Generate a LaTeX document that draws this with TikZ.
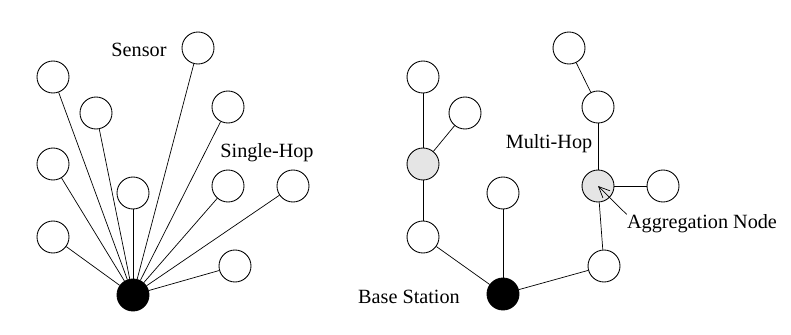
\documentclass[tikz,border=0pt]{standalone}
\usepackage{fontspec}
\setmainfont{Liberation Serif}
\usetikzlibrary{arrows.meta}
\begin{document}
\begin{tikzpicture}[x=0.2mm, y=-0.2mm,
        sensor/.style={circle, draw, line width=0.5pt, minimum size=6.4mm, inner sep=0pt, fill=white},
        sink/.style={sensor, fill=black},
        aggr/.style={sensor, fill=gray!20},
        link/.style={line width=0.4pt},
        lbl/.style={font=\fontsize{11.5}{13}\selectfont, inner sep=0pt}]

        \useasboundingbox (0,0) rectangle (791,334);

        % single-hop star
        \node[sink]   (sbase) at (133,295) {};
        \node[sensor] (s1) at (53,77) {};
        \node[sensor] (s2) at (96,113) {};
        \node[sensor] (s3) at (53,164) {};
        \node[sensor] (s4) at (53,237) {};
        \node[sensor] (s5) at (133,193) {};
        \node[sensor] (s6) at (198,48) {};
        \node[sensor] (s7) at (228,107) {};
        \node[sensor] (s8) at (228,186) {};
        \node[sensor] (s9) at (293,186) {};
        \node[sensor] (s10) at (235,266) {};

        \foreach \n in {s1,s2,s3,s4,s5,s6,s7,s8,s9,s10}
            \draw[link] (sbase) -- (\n);

        % multi-hop tree
        \node[sink]   (mbase) at (503,294) {};
        \node[sensor] (m1) at (423,77) {};
        \node[sensor] (m2) at (465,113) {};
        \node[aggr]   (agg1) at (423,164) {};
        \node[sensor] (m3) at (423,237) {};
        \node[sensor] (m4) at (503,193) {};
        \node[sensor] (m5) at (569,48) {};
        \node[sensor] (m6) at (598,107) {};
        \node[aggr]   (agg2) at (598,186) {};
        \node[sensor] (m7) at (663,186) {};
        \node[sensor] (m8) at (604,266) {};

        \draw[link] (m1) -- (agg1);
        \draw[link] (m2) -- (agg1);
        \draw[link] (agg1) -- (m3);
        \draw[link] (m3) -- (mbase);
        \draw[link] (m4) -- (mbase);
        \draw[link] (mbase) -- (m8);
        \draw[link] (m8) -- (agg2);
        \draw[link] (agg2) -- (m7);
        \draw[link] (agg2) -- (m6);
        \draw[link] (m6) -- (m5);

        % Add text labels
        \node[lbl] (tsensor) at (139,50) {Sensor};
        \node[lbl] (tsingle) at (267,153) {Single-Hop};
        \node[lbl] (tmulti)  at (549,144) {Multi-Hop};
        \node[lbl] (tagg)    at (702,224) {Aggregation Node};
        \node[lbl] (tbase)   at (409,297) {Base Station};

        % draw arrows
        \draw[link, -{Straight Barb[length=2.2mm, width=2mm]}] (tagg.north west) -- (agg2.center);
\end{tikzpicture}
\end{document}
